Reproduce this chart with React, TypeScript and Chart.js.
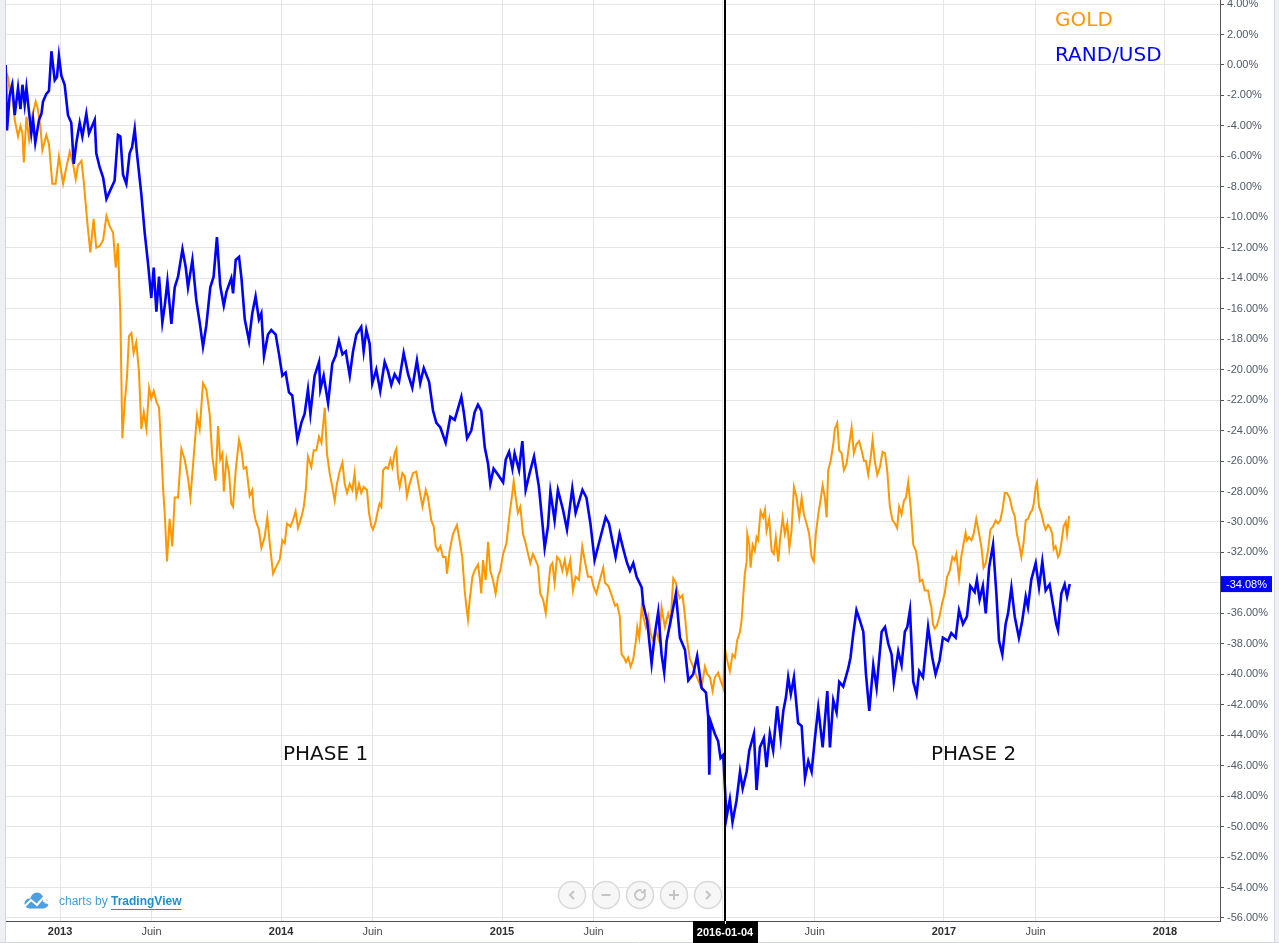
import React, { useEffect, useRef } from "react";
import { Chart, registerables } from "chart.js";

Chart.register(...registerables);

const W = 1279;
const H = 943;

// RAND/USD (% change), dates as decimal years
const randDates = [
  2012.754, 2012.760, 2012.772, 2012.784, 2012.795, 2012.810, 2012.821, 2012.830, 2012.840, 2012.848,
  2012.870, 2012.878, 2012.888, 2012.905, 2012.916, 2012.923, 2012.938, 2012.950, 2012.961, 2012.976,
  2012.986, 2012.995, 2013.006, 2013.021, 2013.036, 2013.051, 2013.062, 2013.074, 2013.089, 2013.101,
  2013.119, 2013.131, 2013.157, 2013.164, 2013.179, 2013.195, 2013.210, 2013.225, 2013.247, 2013.262,
  2013.273, 2013.285, 2013.300, 2013.315, 2013.326, 2013.338, 2013.348, 2013.368, 2013.383, 2013.398,
  2013.413, 2013.424, 2013.436, 2013.448, 2013.463, 2013.474, 2013.486, 2013.504, 2013.519, 2013.534,
  2013.554, 2013.569, 2013.579, 2013.599, 2013.617, 2013.632, 2013.647, 2013.662, 2013.680, 2013.695,
  2013.710, 2013.725, 2013.741, 2013.753, 2013.775, 2013.783, 2013.795, 2013.810, 2013.821, 2013.836,
  2013.855, 2013.870, 2013.885, 2013.900, 2013.911, 2013.923, 2013.941, 2013.956, 2013.976, 2013.991,
  2014.006, 2014.021, 2014.036, 2014.051, 2014.062, 2014.074, 2014.092, 2014.107, 2014.122, 2014.133,
  2014.152, 2014.172, 2014.178, 2014.193, 2014.213, 2014.232, 2014.247, 2014.262, 2014.278, 2014.293,
  2014.311, 2014.326, 2014.341, 2014.363, 2014.374, 2014.386, 2014.401, 2014.413, 2014.431, 2014.449,
  2014.469, 2014.484, 2014.499, 2014.514, 2014.534, 2014.555, 2014.575, 2014.594, 2014.615, 2014.630,
  2014.646, 2014.670, 2014.688, 2014.703, 2014.721, 2014.745, 2014.766, 2014.786, 2014.816, 2014.827,
  2014.842, 2014.861, 2014.876, 2014.891, 2014.906, 2014.922, 2014.937, 2014.947, 2014.962, 2014.982,
  2015.005, 2015.017, 2015.032, 2015.047, 2015.057, 2015.077, 2015.092, 2015.107, 2015.125, 2015.145,
  2015.167, 2015.183, 2015.193, 2015.208, 2015.219, 2015.238, 2015.253, 2015.276, 2015.294, 2015.318,
  2015.333, 2015.364, 2015.382, 2015.400, 2015.419, 2015.442, 2015.469, 2015.484, 2015.514, 2015.532,
  2015.551, 2015.566, 2015.579, 2015.594, 2015.609, 2015.632, 2015.639, 2015.657, 2015.677, 2015.692,
  2015.707, 2015.722, 2015.734, 2015.745, 2015.767, 2015.787, 2015.805, 2015.828, 2015.843, 2015.865,
  2015.883, 2015.903, 2015.923, 2015.933, 2015.938, 2015.944, 2015.963, 2015.978, 2015.989, 2016.001,
  2016.016, 2016.031, 2016.043, 2016.061, 2016.077, 2016.089, 2016.107, 2016.119, 2016.140, 2016.152,
  2016.167, 2016.185, 2016.197, 2016.212, 2016.227, 2016.245, 2016.261, 2016.273, 2016.285, 2016.295,
  2016.307, 2016.321, 2016.340, 2016.356, 2016.371, 2016.386, 2016.401, 2016.416, 2016.431, 2016.451,
  2016.472, 2016.484, 2016.499, 2016.514, 2016.526, 2016.544, 2016.567, 2016.577, 2016.589, 2016.604,
  2016.620, 2016.635, 2016.647, 2016.662, 2016.680, 2016.695, 2016.718, 2016.733, 2016.748, 2016.763,
  2016.773, 2016.793, 2016.808, 2016.823, 2016.834, 2016.846, 2016.861, 2016.876, 2016.888, 2016.905,
  2016.928, 2016.947, 2016.962, 2016.980, 2016.995, 2017.018, 2017.033, 2017.053, 2017.068, 2017.086,
  2017.104, 2017.119, 2017.139, 2017.149, 2017.161, 2017.176, 2017.189, 2017.204, 2017.222, 2017.237,
  2017.249, 2017.264, 2017.279, 2017.290, 2017.305, 2017.320, 2017.339, 2017.354, 2017.370, 2017.380,
  2017.395, 2017.415, 2017.430, 2017.445, 2017.460, 2017.478, 2017.493, 2017.508, 2017.516, 2017.531,
  2017.546, 2017.557, 2017.569,
];
const randValues = [
  0.0, -4.3, -2.0, -1.3, -3.3, -1.5, -2.9, -1.3, -2.6, -1.5,
  -4.5, -3.6, -5.1, -3.6, -3.2, -2.4, -1.9, -1.7, 0.9, -1.0,
  -0.8, 0.6, -0.7, -1.3, -3.3, -3.8, -6.5, -5.1, -3.8, -4.7,
  -3.2, -4.5, -3.6, -5.8, -6.7, -7.4, -8.8, -8.3, -7.6, -4.6,
  -4.7, -7.2, -7.8, -5.8, -5.4, -4.2, -5.8, -8.5, -11.0, -13.0,
  -15.3, -13.3, -16.2, -13.9, -16.9, -15.8, -14.2, -17.0, -14.6, -13.9,
  -12.1, -13.3, -14.6, -12.8, -15.5, -16.9, -18.5, -17.1, -14.6, -13.9,
  -11.3, -14.5, -15.8, -14.9, -14.0, -15.0, -12.8, -12.6, -14.0, -16.7,
  -18.1, -16.3, -15.2, -16.7, -16.3, -19.1, -17.7, -17.4, -17.7, -19.0,
  -20.4, -20.2, -21.5, -21.7, -23.1, -24.6, -23.5, -22.9, -21.3, -22.9,
  -20.4, -19.5, -21.3, -20.4, -22.2, -19.6, -19.1, -18.1, -19.0, -18.8,
  -20.4, -18.8, -17.7, -17.2, -18.8, -17.4, -18.3, -20.9, -20.0, -21.4,
  -19.5, -20.1, -21.0, -20.3, -20.8, -18.9, -20.3, -21.2, -19.4, -20.9,
  -19.9, -20.8, -22.7, -23.5, -23.8, -24.8, -23.1, -23.3, -21.8, -22.8,
  -24.5, -24.0, -22.8, -22.3, -22.7, -25.1, -26.2, -27.5, -26.5, -26.9,
  -27.4, -25.9, -25.4, -26.5, -25.5, -26.6, -24.7, -27.9, -26.8, -25.7,
  -27.7, -30.1, -31.7, -30.3, -28.0, -29.9, -27.9, -29.2, -30.5, -27.8,
  -29.4, -27.9, -28.4, -30.1, -32.5, -31.2, -29.7, -30.1, -32.3, -30.8,
  -31.9, -32.7, -33.2, -32.7, -33.6, -34.3, -35.4, -36.5, -39.3, -37.3,
  -35.9, -38.7, -39.9, -37.8, -36.2, -34.7, -37.6, -38.4, -40.4, -40.0,
  -38.8, -40.9, -41.2, -42.8, -46.6, -43.1, -43.9, -44.4, -45.5, -45.3,
  -49.4, -48.2, -49.7, -48.3, -46.4, -47.5, -46.4, -45.0, -43.9, -47.6,
  -44.8, -44.2, -46.1, -43.9, -45.0, -42.1, -44.2, -42.4, -41.5, -40.2,
  -41.3, -40.2, -43.2, -43.4, -46.8, -45.7, -46.4, -44.2, -42.2, -44.8,
  -41.1, -44.8, -41.7, -42.5, -40.5, -40.8, -39.6, -38.9, -37.4, -35.8,
  -36.5, -37.2, -40.0, -42.4, -39.4, -40.9, -37.2, -36.9, -38.0, -38.7,
  -40.5, -38.5, -39.4, -37.2, -36.9, -35.8, -40.5, -41.3, -39.8, -40.2,
  -36.9, -38.9, -40.0, -39.1, -37.6, -37.8, -37.3, -37.6, -35.8, -36.7,
  -36.2, -34.2, -34.6, -33.8, -35.1, -34.2, -36.0, -33.0, -31.5, -34.7,
  -37.8, -38.7, -36.7, -36.0, -34.3, -36.2, -37.6, -36.5, -34.9, -35.6,
  -33.8, -32.7, -34.3, -32.6, -34.5, -34.1, -35.4, -36.7, -37.1, -34.7,
  -34.1, -34.9, -34.08,
];

// GOLD (% change), dates as decimal years
const goldDates = [
  2012.754, 2012.765, 2012.772, 2012.780, 2012.795, 2012.810, 2012.821, 2012.830, 2012.836, 2012.848,
  2012.860, 2012.875, 2012.890, 2012.900, 2012.911, 2012.920, 2012.938, 2012.950, 2012.965, 2012.980,
  2012.995, 2013.014, 2013.029, 2013.044, 2013.059, 2013.071, 2013.081, 2013.097, 2013.107, 2013.122,
  2013.137, 2013.152, 2013.164, 2013.179, 2013.195, 2013.210, 2013.225, 2013.240, 2013.252, 2013.262,
  2013.273, 2013.282, 2013.293, 2013.303, 2013.312, 2013.323, 2013.333, 2013.345, 2013.357, 2013.368,
  2013.379, 2013.391, 2013.403, 2013.413, 2013.424, 2013.436, 2013.448, 2013.459, 2013.466, 2013.474,
  2013.484, 2013.496, 2013.508, 2013.519, 2013.534, 2013.549, 2013.564, 2013.579, 2013.590, 2013.605,
  2013.620, 2013.632, 2013.647, 2013.662, 2013.677, 2013.689, 2013.704, 2013.715, 2013.725, 2013.735,
  2013.741, 2013.753, 2013.765, 2013.775, 2013.783, 2013.795, 2013.810, 2013.821, 2013.831, 2013.843,
  2013.858, 2013.870, 2013.876, 2013.885, 2013.900, 2013.911, 2013.926, 2013.938, 2013.949, 2013.964,
  2013.979, 2013.994, 2014.006, 2014.017, 2014.027, 2014.042, 2014.054, 2014.066, 2014.077, 2014.092,
  2014.103, 2014.112, 2014.122, 2014.137, 2014.148, 2014.160, 2014.172, 2014.183, 2014.198, 2014.208,
  2014.220, 2014.232, 2014.243, 2014.253, 2014.265, 2014.278, 2014.288, 2014.299, 2014.311, 2014.323,
  2014.333, 2014.341, 2014.353, 2014.363, 2014.374, 2014.389, 2014.398, 2014.409, 2014.416, 2014.428,
  2014.439, 2014.446, 2014.454, 2014.462, 2014.474, 2014.484, 2014.495, 2014.504, 2014.514, 2014.522,
  2014.529, 2014.537, 2014.549, 2014.560, 2014.570, 2014.582, 2014.597, 2014.612, 2014.624, 2014.640,
  2014.655, 2014.665, 2014.680, 2014.691, 2014.700, 2014.710, 2014.721, 2014.733, 2014.745, 2014.751,
  2014.763, 2014.778, 2014.796, 2014.808, 2014.820, 2014.831, 2014.839, 2014.846, 2014.854, 2014.866,
  2014.876, 2014.891, 2014.899, 2014.906, 2014.914, 2014.926, 2014.937, 2014.947, 2014.959, 2014.971,
  2014.982, 2014.992, 2015.005, 2015.020, 2015.035, 2015.047, 2015.053, 2015.062, 2015.072, 2015.083,
  2015.095, 2015.107, 2015.118, 2015.128, 2015.140, 2015.152, 2015.163, 2015.173, 2015.186, 2015.198,
  2015.208, 2015.219, 2015.228, 2015.238, 2015.249, 2015.261, 2015.273, 2015.284, 2015.294, 2015.309,
  2015.321, 2015.333, 2015.348, 2015.363, 2015.374, 2015.389, 2015.404, 2015.415, 2015.427, 2015.443,
  2015.458, 2015.466, 2015.481, 2015.496, 2015.511, 2015.521, 2015.533, 2015.541, 2015.552, 2015.561,
  2015.571, 2015.582, 2015.594, 2015.606, 2015.612, 2015.621, 2015.632, 2015.639, 2015.651, 2015.662,
  2015.672, 2015.684, 2015.696, 2015.711, 2015.722, 2015.737, 2015.752, 2015.763, 2015.775, 2015.787,
  2015.797, 2015.805, 2015.817, 2015.828, 2015.838, 2015.850, 2015.865, 2015.877, 2015.888, 2015.903,
  2015.918, 2015.929, 2015.941, 2015.953, 2015.963, 2015.978, 2015.989, 2016.001, 2016.009, 2016.019,
  2016.031, 2016.043, 2016.054, 2016.064, 2016.077, 2016.084, 2016.092, 2016.099, 2016.107, 2016.110,
  2016.119, 2016.125, 2016.134, 2016.144, 2016.152, 2016.159, 2016.170, 2016.182, 2016.190, 2016.197,
  2016.209, 2016.220, 2016.230, 2016.239, 2016.250, 2016.258, 2016.270, 2016.280, 2016.291, 2016.300,
  2016.310, 2016.321, 2016.333, 2016.345, 2016.356, 2016.366, 2016.378, 2016.390, 2016.401, 2016.411,
  2016.420, 2016.431, 2016.441, 2016.451, 2016.461, 2016.469, 2016.476, 2016.487, 2016.499, 2016.506,
  2016.517, 2016.526, 2016.537, 2016.547, 2016.559, 2016.571, 2016.582, 2016.592, 2016.604, 2016.616,
  2016.627, 2016.638, 2016.647, 2016.657, 2016.668, 2016.677, 2016.687, 2016.698, 2016.710, 2016.722,
  2016.733, 2016.743, 2016.755, 2016.767, 2016.778, 2016.788, 2016.797, 2016.808, 2016.819, 2016.828,
  2016.838, 2016.849, 2016.861, 2016.873, 2016.883, 2016.891, 2016.902, 2016.913, 2016.928, 2016.935,
  2016.943, 2016.950, 2016.958, 2016.968, 2016.980, 2016.992, 2017.003, 2017.014, 2017.026, 2017.038,
  2017.048, 2017.056, 2017.068, 2017.078, 2017.089, 2017.098, 2017.104, 2017.113, 2017.124, 2017.134,
  2017.146, 2017.158, 2017.169, 2017.179, 2017.189, 2017.199, 2017.210, 2017.222, 2017.234, 2017.244,
  2017.255, 2017.267, 2017.275, 2017.285, 2017.297, 2017.309, 2017.320, 2017.330, 2017.342, 2017.350,
  2017.360, 2017.370, 2017.380, 2017.391, 2017.400, 2017.406, 2017.415, 2017.421, 2017.430, 2017.440,
  2017.451, 2017.460, 2017.471, 2017.481, 2017.490, 2017.496, 2017.505, 2017.516, 2017.523, 2017.531,
  2017.541, 2017.551, 2017.557, 2017.566,
];
const goldValues = [
  -0.4, -0.8, -1.7, -1.3, -3.6, -4.7, -4.0, -4.5, -6.4, -3.4,
  -4.9, -3.3, -2.4, -2.9, -4.0, -5.6, -4.6, -5.2, -7.8, -7.8,
  -6.0, -7.8, -6.7, -5.7, -6.5, -7.5, -6.6, -6.3, -7.6, -10.1,
  -12.3, -10.1, -12.0, -11.9, -11.5, -9.9, -10.6, -11.0, -13.3, -11.7,
  -16.4, -24.5, -22.1, -20.5, -17.8, -17.6, -18.9, -18.2, -20.1, -23.9,
  -22.8, -23.9, -21.2, -21.9, -21.4, -22.1, -22.5, -25.5, -27.7, -29.5,
  -32.6, -29.8, -31.6, -28.4, -28.4, -25.2, -25.9, -27.1, -28.4, -25.7,
  -23.0, -23.9, -20.9, -21.3, -22.9, -25.7, -27.3, -23.7, -25.9, -25.5,
  -28.0, -25.9, -26.8, -28.8, -29.0, -26.6, -24.6, -25.3, -26.5, -26.4,
  -28.3, -27.9, -29.2, -29.9, -30.5, -31.7, -31.0, -29.7, -31.4, -33.4,
  -32.9, -32.5, -31.2, -31.4, -30.1, -30.3, -29.9, -29.3, -30.4, -29.7,
  -29.0, -27.9, -25.7, -26.4, -25.3, -25.3, -24.4, -24.8, -22.5, -25.5,
  -26.8, -27.7, -28.6, -27.5, -26.7, -26.1, -27.5, -28.1, -27.5, -27.9,
  -26.8, -28.3, -27.5, -28.1, -27.7, -27.9, -29.4, -30.3, -30.5, -30.0,
  -29.2, -28.8, -29.0, -26.6, -26.4, -26.5, -25.9, -26.4, -25.5, -25.2,
  -27.0, -27.7, -26.8, -27.0, -28.3, -27.5, -26.8, -26.7, -27.7, -29.0,
  -27.9, -28.4, -29.9, -30.3, -31.6, -31.9, -31.6, -32.3, -32.3, -33.4,
  -31.9, -30.8, -30.2, -31.2, -32.3, -34.5, -35.6, -36.4, -35.1, -33.6,
  -33.2, -32.8, -33.6, -34.7, -32.5, -33.8, -31.3, -33.2, -33.8, -34.7,
  -33.6, -33.2, -32.1, -31.4, -29.4, -28.1, -27.3, -28.4, -29.4, -29.0,
  -30.8, -31.4, -32.1, -32.7, -32.1, -32.5, -32.9, -34.7, -35.1, -36.0,
  -34.5, -32.9, -32.7, -34.0, -32.3, -32.5, -33.2, -32.5, -33.4, -32.5,
  -34.5, -33.6, -33.8, -31.6, -32.5, -33.6, -33.6, -34.3, -34.7, -33.8,
  -33.0, -34.0, -34.2, -34.8, -35.5, -35.4, -36.2, -38.7, -38.9, -39.2,
  -38.9, -39.5, -39.0, -37.8, -36.9, -37.6, -35.6, -36.2, -36.9, -36.2,
  -37.3, -37.8, -37.1, -37.8, -35.6, -36.9, -36.0, -36.5, -33.7, -34.0,
  -34.7, -35.0, -34.8, -36.2, -37.8, -39.0, -39.5, -40.0, -40.4, -40.9,
  -39.5, -40.0, -40.2, -41.1, -40.2, -39.9, -40.4, -40.9, -38.3, -39.1,
  -39.8, -38.7, -38.9, -37.8, -37.2, -36.5, -34.8, -33.4, -32.6, -30.8,
  -31.5, -33.0, -31.5, -31.9, -31.0, -31.2, -29.3, -29.7, -29.2, -30.6,
  -29.8, -31.9, -32.1, -31.0, -32.6, -31.2, -29.7, -30.8, -30.1, -31.7,
  -30.6, -27.7, -28.4, -29.7, -28.4, -29.5, -30.1, -30.8, -32.3, -32.6,
  -30.8, -29.5, -28.6, -27.6, -28.4, -29.7, -26.6, -26.0, -24.9, -23.9,
  -23.5, -25.3, -25.5, -26.6, -26.2, -24.9, -23.8, -25.5, -24.9, -24.7,
  -25.3, -26.0, -26.0, -26.9, -25.8, -24.6, -26.0, -26.9, -26.4, -25.4,
  -25.5, -26.6, -29.0, -29.9, -30.1, -30.4, -29.0, -29.5, -28.6, -28.4,
  -27.4, -29.0, -31.5, -31.9, -32.8, -33.9, -33.8, -34.5, -34.5, -35.1,
  -35.6, -36.7, -37.0, -36.8, -36.2, -35.3, -34.7, -33.6, -33.2, -32.3,
  -32.5, -32.1, -33.7, -32.3, -31.4, -30.7, -31.2, -31.0, -31.2, -30.8,
  -29.8, -30.7, -31.6, -33.0, -32.7, -31.9, -30.5, -30.3, -29.9, -30.1,
  -29.9, -29.0, -28.1, -28.1, -28.4, -29.2, -29.6, -30.8, -31.6, -32.3,
  -31.4, -29.9, -29.8, -29.4, -29.2, -28.8, -27.7, -27.4, -29.0, -29.4,
  -30.1, -30.5, -30.2, -30.4, -30.8, -31.8, -31.6, -32.3, -32.1, -31.4,
  -30.3, -30.0, -30.8, -29.6,
];

const seriesNames = ["RAND/USD", "GOLD"];
const xTickValues = [2013, 2013.414, 2014, 2014.414, 2015, 2015.414, 2016, 2016.415, 2017, 2017.414, 2018];
const xTickLabels = ["2013", "Juin", "2014", "Juin", "2015", "Juin", "2016", "Juin", "2017", "Juin", "2018"];
const yTickValues = [
  4, 2, 0, -2, -4, -6, -8, -10, -12, -14, -16, -18, -20, -22, -24, -26, -28, -30,
  -32, -34, -36, -38, -40, -42, -44, -46, -48, -50, -52, -54, -56,
];
const markerYear = 2016.008;
const markerLabel = "2016-01-04";
const lastRandValue = -34.08;
const phaseLabels = ["PHASE 1", "PHASE 2"];

const BLUE = "#0000ff";
const ORANGE = "#ff9800";
const AXIS_FONT = "Arial, 'Liberation Sans', sans-serif";
const TEXT_FONT = "'DejaVu Sans', Verdana, sans-serif";

function zip(xs: number[], ys: number[]) {
  const n = Math.min(xs.length, ys.length);
  const out: { x: number; y: number }[] = [];
  for (let i = 0; i < n; i++) out.push({ x: xs[i], y: ys[i] });
  return out;
}

const overlayPlugin = {
  id: "tvOverlay",
  beforeDraw(chart: any) {
    const { ctx } = chart;
    ctx.save();
    ctx.fillStyle = "#ffffff";
    ctx.fillRect(0, 0, chart.width, chart.height);
    ctx.restore();
  },
  afterDatasetsDraw(chart: any) {
    const { ctx, chartArea, scales } = chart;
    const px = Math.round(scales.x.getPixelForValue(markerYear));
    ctx.save();
    ctx.strokeStyle = "#000000";
    ctx.lineWidth = 2;
    ctx.beginPath();
    ctx.moveTo(px, 0);
    ctx.lineTo(px, chartArea.bottom + 4);
    ctx.stroke();
    ctx.restore();
  },
  afterDraw(chart: any) {
    const { ctx, chartArea, scales } = chart;
    const xs = scales.x;
    const ys = scales.y;
    ctx.save();

    // frame strips
    ctx.fillStyle = "#eef0f5";
    ctx.fillRect(0, 0, 5, H);
    ctx.fillRect(1275, 0, 4, H);
    ctx.strokeStyle = "#d4d7de";
    ctx.lineWidth = 1;
    ctx.beginPath();
    ctx.moveTo(5.5, 0);
    ctx.lineTo(5.5, H);
    ctx.moveTo(1274.5, 0);
    ctx.lineTo(1274.5, H);
    ctx.moveTo(0, 942.5);
    ctx.lineTo(W, 942.5);
    ctx.stroke();

    // date marker label
    const px = Math.round(xs.getPixelForValue(markerYear));
    ctx.fillStyle = "#000000";
    ctx.fillRect(px - 32, chartArea.bottom, 65, 22);
    ctx.fillStyle = "#ffffff";
    ctx.font = `bold 11px ${AXIS_FONT}`;
    ctx.textAlign = "center";
    ctx.textBaseline = "middle";
    ctx.fillText(markerLabel, px, chartArea.bottom + 11.5);
    ctx.strokeStyle = "#ffffff";
    ctx.lineWidth = 1;
    ctx.beginPath();
    ctx.moveTo(px + 0.5, chartArea.bottom);
    ctx.lineTo(px + 0.5, chartArea.bottom + 3);
    ctx.stroke();

    // last value label on y axis
    const py = ys.getPixelForValue(lastRandValue);
    ctx.fillStyle = BLUE;
    ctx.fillRect(chartArea.right + 1, py - 8, 51, 16);
    ctx.fillStyle = "#ffffff";
    ctx.font = `11px ${AXIS_FONT}`;
    ctx.textAlign = "left";
    ctx.textBaseline = "middle";
    ctx.fillText(lastRandValue.toFixed(2) + "%", chartArea.right + 6, py + 0.5);

    // legend texts
    ctx.font = `20px ${TEXT_FONT}`;
    ctx.textAlign = "left";
    ctx.textBaseline = "alphabetic";
    ctx.fillStyle = ORANGE;
    ctx.fillText(seriesNames[1], 1055, 26);
    ctx.fillStyle = BLUE;
    ctx.fillText(seriesNames[0], 1055, 60.5);

    // phase labels
    ctx.fillStyle = "#111111";
    ctx.fillText(phaseLabels[0], 283, 759.5);
    ctx.fillText(phaseLabels[1], 931, 759.5);

    // TradingView logo
    ctx.fillStyle = "#4c9fe0";
    ctx.beginPath();
    ctx.arc(37, 899, 6.5, 0, Math.PI * 2);
    ctx.arc(29.5, 903.5, 5, 0, Math.PI * 2);
    ctx.arc(44, 903.5, 4.5, 0, Math.PI * 2);
    ctx.fill();
    ctx.fillRect(29.5, 902, 15, 6.5);
    ctx.strokeStyle = "#ffffff";
    ctx.lineWidth = 2;
    ctx.beginPath();
    ctx.moveTo(24, 907);
    ctx.lineTo(31, 900);
    ctx.lineTo(37, 905);
    ctx.lineTo(43, 898);
    ctx.lineTo(49, 904);
    ctx.stroke();

    ctx.font = `12px ${AXIS_FONT}`;
    ctx.textBaseline = "middle";
    ctx.fillStyle = "#3da0db";
    const pre = "charts by ";
    ctx.fillText(pre, 59, 902);
    const preW = ctx.measureText(pre).width;
    ctx.font = `bold 12px ${AXIS_FONT}`;
    ctx.fillStyle = "#1e8fd1";
    ctx.fillText("TradingView", 59 + preW, 902);
    const tvW = ctx.measureText("TradingView").width;
    ctx.strokeStyle = "#1e8fd1";
    ctx.lineWidth = 1;
    ctx.beginPath();
    ctx.moveTo(59 + preW, 909.5);
    ctx.lineTo(59 + preW + tvW, 909.5);
    ctx.stroke();

    // navigation buttons
    const centers = [572, 606, 640, 674, 708];
    const cy = 895;
    centers.forEach((cx, i) => {
      ctx.beginPath();
      ctx.arc(cx, cy, 13.5, 0, Math.PI * 2);
      ctx.fillStyle = "rgba(246,246,246,0.85)";
      ctx.fill();
      ctx.strokeStyle = "#d9d9d9";
      ctx.lineWidth = 1.5;
      ctx.stroke();
      ctx.strokeStyle = "#c4c4c4";
      ctx.lineWidth = 2;
      ctx.beginPath();
      if (i === 0) {
        ctx.moveTo(cx + 2, cy - 4);
        ctx.lineTo(cx - 2, cy);
        ctx.lineTo(cx + 2, cy + 4);
      } else if (i === 1) {
        ctx.moveTo(cx - 4.5, cy);
        ctx.lineTo(cx + 4.5, cy);
      } else if (i === 2) {
        ctx.arc(cx, cy, 5, -Math.PI * 0.3, Math.PI * 1.6);
        ctx.moveTo(cx + 5, cy - 6);
        ctx.lineTo(cx + 4.5, cy - 2.5);
        ctx.lineTo(cx + 1, cy - 3);
      } else if (i === 3) {
        ctx.moveTo(cx - 5, cy);
        ctx.lineTo(cx + 5, cy);
        ctx.moveTo(cx, cy - 5);
        ctx.lineTo(cx, cy + 5);
      } else {
        ctx.moveTo(cx - 2, cy - 4);
        ctx.lineTo(cx + 2, cy);
        ctx.lineTo(cx - 2, cy + 4);
      }
      ctx.stroke();
    });

    ctx.restore();
  },
};

export default function App() {
  const canvasRef = useRef<HTMLCanvasElement | null>(null);

  useEffect(() => {
    document.body.style.margin = "0";
    const canvas = canvasRef.current;
    if (!canvas) return;

    const chart = new Chart(canvas, {
      type: "line",
      data: {
        datasets: [
          {
            label: seriesNames[0],
            data: zip(randDates, randValues),
            borderColor: BLUE,
            backgroundColor: BLUE,
            borderWidth: 2.6,
            pointRadius: 0,
            tension: 0,
            fill: false,
          },
          {
            label: seriesNames[1],
            data: zip(goldDates, goldValues),
            borderColor: ORANGE,
            backgroundColor: ORANGE,
            borderWidth: 2,
            pointRadius: 0,
            tension: 0,
            fill: false,
          },
        ],
      },
      options: {
        responsive: false,
        animation: false,
        devicePixelRatio: 1,
        layout: { padding: { left: 5, top: 0, right: 0, bottom: 0 } },
        plugins: {
          legend: { display: false },
          tooltip: { enabled: false },
        },
        events: [],
        scales: {
          x: {
            type: "linear",
            min: 2012.751,
            max: 2018.249,
            afterBuildTicks: (scale: any) => {
              scale.ticks = xTickValues.map((v) => ({ value: v }));
            },
            afterFit: (scale: any) => {
              scale.height = 22;
              scale.paddingLeft = 0;
              scale.paddingRight = 0;
              scale.paddingTop = 0;
              scale.paddingBottom = 0;
            },
            ticks: {
              autoSkip: false,
              maxRotation: 0,
              padding: 4,
              callback: (_v: any, i: number) => xTickLabels[i],
              color: (ctx: any) => (ctx.index % 2 === 0 ? "#2f2f2f" : "#4a4a4a"),
              font: (ctx: any) => ({
                family: AXIS_FONT,
                size: 11,
                weight: ctx.index % 2 === 0 ? "bold" : "normal",
              }),
            },
            grid: {
              color: "#e6e6e6",
              lineWidth: 1,
              drawTicks: false,
            },
            border: { display: true, color: "#50535e", width: 1 },
          },
          y: {
            type: "linear",
            position: "right",
            min: -56.197,
            max: 4.263,
            afterBuildTicks: (scale: any) => {
              scale.ticks = yTickValues.map((v) => ({ value: v }));
            },
            afterFit: (scale: any) => {
              scale.width = 59;
              scale.paddingTop = 0;
              scale.paddingBottom = 0;
              scale.paddingLeft = 0;
              scale.paddingRight = 0;
            },
            ticks: {
              autoSkip: false,
              padding: 3,
              color: "#4f5966",
              font: { family: AXIS_FONT, size: 11 },
              callback: (v: any) => Number(v).toFixed(2) + "%",
            },
            grid: {
              color: "#e6e6e6",
              lineWidth: 1,
              tickLength: 4,
              tickColor: "#50535e",
            },
            border: { display: true, color: "#50535e", width: 1 },
          },
        },
      },
      plugins: [overlayPlugin],
    } as any);

    return () => {
      chart.destroy();
    };
  }, []);

  return (
    <div style={{ width: W, height: H, position: "relative", background: "#fff" }}>
      <canvas ref={canvasRef} width={W} height={H} style={{ display: "block" }} />
    </div>
  );
}
